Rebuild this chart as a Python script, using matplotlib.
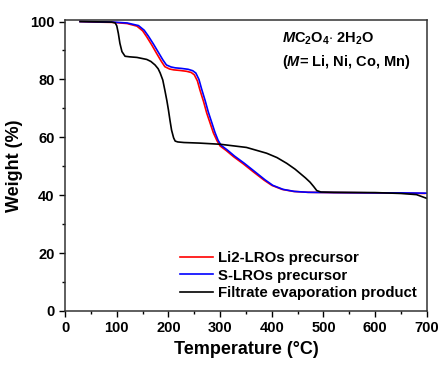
import matplotlib.pyplot as plt
from matplotlib.ticker import MultipleLocator

plt.rcParams['font.family'] = ['Liberation Sans', 'DejaVu Sans']
plt.rcParams['mathtext.fontset'] = 'custom'
plt.rcParams['mathtext.rm'] = 'Liberation Sans:bold'
plt.rcParams['mathtext.it'] = 'Liberation Sans:bold:italic'
plt.rcParams['mathtext.bf'] = 'Liberation Sans:bold'

# TGA curves: temperature (°C) vs remaining weight (%)
temp_li2 = [29, 60, 93, 120, 139, 150, 158, 168, 177, 186, 193, 202, 210, 222, 235,
            244, 250, 256, 261, 268, 274, 281, 287, 294, 300, 312, 326, 345, 364, 385,
            400, 420, 442, 470, 520, 600, 650, 696]
weight_li2 = [100, 99.8, 99.7, 99.3, 98.4, 96.8, 94.7, 91.8, 89.0, 86.3, 84.4, 83.6, 83.3,
              83.1, 82.8, 82.4, 81.6, 79.5, 76.3, 72.3, 68.4, 64.7, 61.5, 58.8, 57.0, 55.4,
              53.3, 50.8, 48.1, 45.2, 43.4, 42.0, 41.3, 41.0, 40.9, 40.8, 40.7, 40.6]

temp_s = [29, 60, 93, 120, 142, 153, 161, 171, 180, 189, 196, 205, 213, 225, 238, 247,
          253, 259, 264, 271, 277, 284, 290, 296, 302, 314, 328, 347, 366, 387, 402, 422,
          444, 470, 520, 600, 650, 700]
weight_s = [100, 99.9, 99.8, 99.5, 98.6, 97.0, 95.0, 92.2, 89.5, 86.8, 85.0, 84.3, 84.0,
            83.8, 83.5, 83.0, 82.2, 80.0, 76.8, 72.7, 68.8, 65.0, 61.7, 59.0, 57.2, 55.6,
            53.5, 51.0, 48.3, 45.3, 43.4, 42.0, 41.3, 41.0, 40.9, 40.8, 40.8, 40.7]

temp_filtrate = [29, 60, 90, 97, 100, 103, 106, 110, 116, 125, 139, 158, 166, 174, 180,
                 184, 189, 193, 197, 200, 203, 206, 210, 213, 218, 230, 260, 300, 351, 390,
                 410, 429, 445, 455, 465, 474, 481, 487, 495, 520, 600, 650, 680, 700]
weight_filtrate = [100, 99.9, 99.8, 99.5, 98.5, 95.9, 92.5, 89.6, 88.0, 87.8, 87.6, 86.9,
                   86.2, 85.0, 83.7, 82.2, 79.8, 76.3, 72.6, 69.4, 65.8, 62.5, 59.8, 58.7,
                   58.4, 58.2, 58.0, 57.6, 56.5, 54.5, 53.0, 51.0, 49.0, 47.5, 46.0, 44.5,
                   43.0, 41.6, 41.1, 41.0, 40.9, 40.6, 40.2, 38.9]

fig = plt.figure(figsize=(4.4, 3.65), dpi=100)
ax = fig.add_axes([0.148, 0.148, 0.822, 0.797])

ax.plot(temp_li2, weight_li2, color='red', lw=1.2, label='Li2-LROs precursor')
ax.plot(temp_s, weight_s, color='blue', lw=1.2, label='S-LROs precursor')
ax.plot(temp_filtrate, weight_filtrate, color='black', lw=1.2,
        label='Filtrate evaporation product')

ax.set_xlim(0, 700)
ax.set_ylim(0, 100.5)
ax.xaxis.set_major_locator(MultipleLocator(100))
ax.xaxis.set_minor_locator(MultipleLocator(50))
ax.yaxis.set_major_locator(MultipleLocator(20))
ax.yaxis.set_minor_locator(MultipleLocator(10))
ax.tick_params(which='major', direction='out', length=4, width=1, labelsize=10.5)
ax.tick_params(which='minor', direction='out', length=2.5, width=1)
for lbl in ax.get_xticklabels() + ax.get_yticklabels():
    lbl.set_fontweight('bold')
for sp in ax.spines.values():
    sp.set_linewidth(1.1)
    sp.set_color('#333333')

ax.set_xlabel('Temperature (\u00b0C)', fontsize=13, fontweight='bold', labelpad=4)
ax.set_ylabel('Weight (%)', fontsize=13, fontweight='bold', labelpad=5)

ax.text(419, 94, r'$\mathit{M}$C$_2$O$_4$$\cdot$ 2H$_2$O', fontsize=10.5,
        fontweight='bold', ha='left', va='center')
ax.text(419, 86.1, r'($\mathit{M}$= Li, Ni, Co, Mn)', fontsize=10.5,
        fontweight='bold', ha='left', va='center')

ax.legend(loc='lower right', bbox_to_anchor=(1.0, 0.0), frameon=False,
          prop={'weight': 'bold', 'size': 10.8}, handlelength=2.2,
          labelspacing=0.25, borderaxespad=0.3, handletextpad=0.3)

fig.savefig('out.png', dpi=100)
